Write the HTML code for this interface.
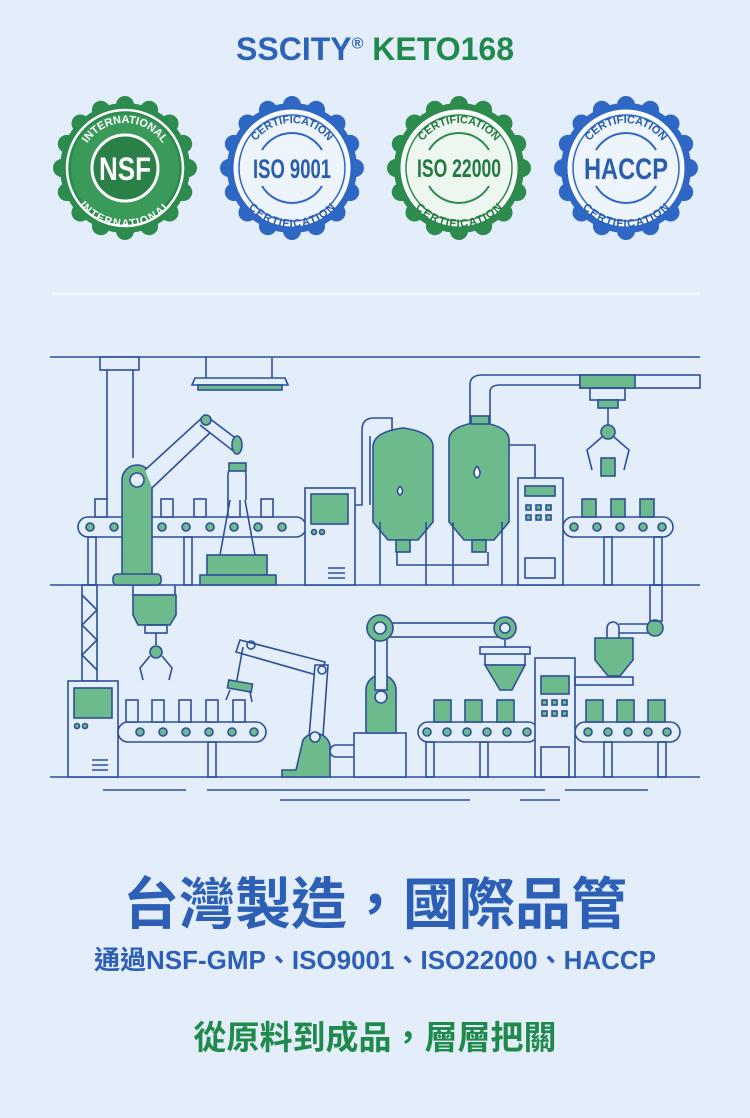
<!DOCTYPE html>
<html><head><meta charset="utf-8"><style>
html,body{margin:0;padding:0;background:#e3eefa;}
body{width:750px;height:1118px;position:relative;overflow:hidden;font-family:"Liberation Sans","Noto Sans CJK TC",sans-serif;}
.t{position:absolute;left:0;width:750px;text-align:center;font-weight:bold;white-space:nowrap;}
</style></head><body>
<div class="t" style="top:31px;font-size:32px;"><span style="color:#2c63b8">SSCITY<sup style="font-size:16px">®</sup></span> <span style="color:#1f8a4c">KETO168</span></div>

<svg width="750" height="1118" style="position:absolute;left:0;top:0" xmlns="http://www.w3.org/2000/svg">
<defs>
<path id="arcT" d="M-45,0 A45,45 0 0 1 45,0"/>
<path id="arcB" d="M-50,0 A50,50 0 0 0 50,0"/>
</defs>
<g font-family="Liberation Sans, sans-serif" font-weight="bold" text-anchor="middle">
<g transform="translate(125,168)">
 <g fill="#2e8b4e"><circle r="65"/>
 <circle cy="-63" r="9"/><circle cy="-63" r="9" transform="rotate(22.5)"/><circle cy="-63" r="9" transform="rotate(45)"/><circle cy="-63" r="9" transform="rotate(67.5)"/><circle cy="-63" r="9" transform="rotate(90)"/><circle cy="-63" r="9" transform="rotate(112.5)"/><circle cy="-63" r="9" transform="rotate(135)"/><circle cy="-63" r="9" transform="rotate(157.5)"/><circle cy="-63" r="9" transform="rotate(180)"/><circle cy="-63" r="9" transform="rotate(202.5)"/><circle cy="-63" r="9" transform="rotate(225)"/><circle cy="-63" r="9" transform="rotate(247.5)"/><circle cy="-63" r="9" transform="rotate(270)"/><circle cy="-63" r="9" transform="rotate(292.5)"/><circle cy="-63" r="9" transform="rotate(315)"/><circle cy="-63" r="9" transform="rotate(337.5)"/></g>
 <circle r="58" fill="none" stroke="#fff" stroke-width="2.5"/>
 <circle r="54" fill="#3a9a5a"/>
 <circle r="33" fill="#2b8048" stroke="#fff" stroke-width="3"/>
 <text y="12" font-size="32" fill="#fff" textLength="52" lengthAdjust="spacingAndGlyphs">NSF</text>
 <text font-size="11" fill="#fff"><textPath href="#arcT" startOffset="50%">INTERNATIONAL</textPath></text>
 <text font-size="11" fill="#fff" dy="9"><textPath href="#arcB" startOffset="50%">INTERNATIONAL</textPath></text>
</g>
<g transform="translate(292,168)">
 <g fill="#2f68c4"><circle r="65"/>
 <circle cy="-63" r="9"/><circle cy="-63" r="9" transform="rotate(22.5)"/><circle cy="-63" r="9" transform="rotate(45)"/><circle cy="-63" r="9" transform="rotate(67.5)"/><circle cy="-63" r="9" transform="rotate(90)"/><circle cy="-63" r="9" transform="rotate(112.5)"/><circle cy="-63" r="9" transform="rotate(135)"/><circle cy="-63" r="9" transform="rotate(157.5)"/><circle cy="-63" r="9" transform="rotate(180)"/><circle cy="-63" r="9" transform="rotate(202.5)"/><circle cy="-63" r="9" transform="rotate(225)"/><circle cy="-63" r="9" transform="rotate(247.5)"/><circle cy="-63" r="9" transform="rotate(270)"/><circle cy="-63" r="9" transform="rotate(292.5)"/><circle cy="-63" r="9" transform="rotate(315)"/><circle cy="-63" r="9" transform="rotate(337.5)"/></g>
 <circle r="57" fill="#eef4fb" stroke="#fff" stroke-width="3"/>
 <circle r="53" fill="none" stroke="#2f68c4" stroke-width="1.5"/>
 <path d="M-30,-18 A35,35 0 0 1 30,-18 M-30,18 A35,35 0 0 0 30,18" fill="none" stroke="#2f68c4" stroke-width="2"/>
 <text y="10" font-size="27" fill="#2a5caf" textLength="78" lengthAdjust="spacingAndGlyphs">ISO 9001</text>
 <text font-size="11" fill="#2a5caf"><textPath href="#arcT" startOffset="50%">CERTIFICATION</textPath></text>
 <text font-size="11" fill="#2a5caf" dy="9"><textPath href="#arcB" startOffset="50%">CERTIFICATION</textPath></text>
</g>
<g transform="translate(459,168)">
 <g fill="#2e8b4e"><circle r="65"/>
 <circle cy="-63" r="9"/><circle cy="-63" r="9" transform="rotate(22.5)"/><circle cy="-63" r="9" transform="rotate(45)"/><circle cy="-63" r="9" transform="rotate(67.5)"/><circle cy="-63" r="9" transform="rotate(90)"/><circle cy="-63" r="9" transform="rotate(112.5)"/><circle cy="-63" r="9" transform="rotate(135)"/><circle cy="-63" r="9" transform="rotate(157.5)"/><circle cy="-63" r="9" transform="rotate(180)"/><circle cy="-63" r="9" transform="rotate(202.5)"/><circle cy="-63" r="9" transform="rotate(225)"/><circle cy="-63" r="9" transform="rotate(247.5)"/><circle cy="-63" r="9" transform="rotate(270)"/><circle cy="-63" r="9" transform="rotate(292.5)"/><circle cy="-63" r="9" transform="rotate(315)"/><circle cy="-63" r="9" transform="rotate(337.5)"/></g>
 <circle r="57" fill="#eef6f0" stroke="#fff" stroke-width="3"/>
 <circle r="53" fill="none" stroke="#2e8b4e" stroke-width="1.5"/>
 <path d="M-30,-18 A35,35 0 0 1 30,-18 M-30,18 A35,35 0 0 0 30,18" fill="none" stroke="#2e8b4e" stroke-width="2"/>
 <text y="9" font-size="25" fill="#237a40" textLength="84" lengthAdjust="spacingAndGlyphs">ISO 22000</text>
 <text font-size="11" fill="#237a40"><textPath href="#arcT" startOffset="50%">CERTIFICATION</textPath></text>
 <text font-size="11" fill="#237a40" dy="9"><textPath href="#arcB" startOffset="50%">CERTIFICATION</textPath></text>
</g>
<g transform="translate(626,168)">
 <g fill="#2f68c4"><circle r="65"/>
 <circle cy="-63" r="9"/><circle cy="-63" r="9" transform="rotate(22.5)"/><circle cy="-63" r="9" transform="rotate(45)"/><circle cy="-63" r="9" transform="rotate(67.5)"/><circle cy="-63" r="9" transform="rotate(90)"/><circle cy="-63" r="9" transform="rotate(112.5)"/><circle cy="-63" r="9" transform="rotate(135)"/><circle cy="-63" r="9" transform="rotate(157.5)"/><circle cy="-63" r="9" transform="rotate(180)"/><circle cy="-63" r="9" transform="rotate(202.5)"/><circle cy="-63" r="9" transform="rotate(225)"/><circle cy="-63" r="9" transform="rotate(247.5)"/><circle cy="-63" r="9" transform="rotate(270)"/><circle cy="-63" r="9" transform="rotate(292.5)"/><circle cy="-63" r="9" transform="rotate(315)"/><circle cy="-63" r="9" transform="rotate(337.5)"/></g>
 <circle r="57" fill="#eef4fb" stroke="#fff" stroke-width="3"/>
 <circle r="53" fill="none" stroke="#2f68c4" stroke-width="1.5"/>
 <path d="M-30,-18 A35,35 0 0 1 30,-18 M-30,18 A35,35 0 0 0 30,18" fill="none" stroke="#2f68c4" stroke-width="2"/>
 <text y="11" font-size="30" fill="#2a5caf" textLength="84" lengthAdjust="spacingAndGlyphs">HACCP</text>
 <text font-size="11" fill="#2a5caf"><textPath href="#arcT" startOffset="50%">CERTIFICATION</textPath></text>
 <text font-size="11" fill="#2a5caf" dy="9"><textPath href="#arcB" startOffset="50%">CERTIFICATION</textPath></text>
</g>
</g>

<line x1="52" y1="294" x2="700" y2="294" stroke="#f6f9fd" stroke-width="2"/>

<g stroke="#2c4f98" stroke-width="1.6" fill="none">
<line x1="50" y1="357" x2="700" y2="357"/>
<line x1="50" y1="585" x2="700" y2="585"/>
<line x1="50" y1="777" x2="700" y2="777"/>
<line x1="103" y1="790" x2="186" y2="790"/><line x1="207" y1="790" x2="545" y2="790"/><line x1="565" y1="790" x2="648" y2="790"/>
<line x1="280" y1="800" x2="470" y2="800"/><line x1="520" y1="800" x2="560" y2="800"/>
<rect x="100" y="357" width="39" height="13" fill="#e3eefa"/>
<line x1="107" y1="370" x2="107" y2="500"/><line x1="133" y1="370" x2="133" y2="458"/>
<line x1="206" y1="357" x2="206" y2="378"/><line x1="272" y1="357" x2="272" y2="378"/>
<path d="M195,378 H285 L288,385 H192 Z" fill="#e3eefa"/>
<rect x="198" y="385" width="84" height="5" fill="#6dba8d"/>
<rect x="78" y="517" width="228" height="20" rx="10" fill="#e3eefa"/>
<g fill="#6dba8d"><circle cx="90" cy="527" r="4"/><circle cx="114" cy="527" r="4"/><circle cx="138" cy="527" r="4"/><circle cx="162" cy="527" r="4"/><circle cx="186" cy="527" r="4"/><circle cx="210" cy="527" r="4"/><circle cx="234" cy="527" r="4"/><circle cx="258" cy="527" r="4"/><circle cx="282" cy="527" r="4"/></g>
<g fill="#e3eefa"><rect x="95" y="499" width="12" height="18"/><rect x="128" y="499" width="12" height="18"/><rect x="161" y="499" width="12" height="18"/><rect x="194" y="499" width="12" height="18"/><rect x="228" y="499" width="12" height="18"/><rect x="261" y="499" width="12" height="18"/></g>
<rect x="88" y="537" width="8" height="48"/><rect x="184" y="537" width="8" height="48"/>
<path d="M122,585 V480 A15,15 0 0 1 152,480 V585 Z" fill="#6dba8d"/>
<rect x="113" y="574" width="48" height="11" rx="4" fill="#6dba8d"/>
<circle cx="137" cy="480" r="7" fill="#e3eefa"/>
<path d="M145,470 L205,415 L215,428 L152,488" fill="#e3eefa"/>
<path d="M205,415 L238,440 L232,450 L200,425" fill="#e3eefa"/>
<circle cx="206" cy="420" r="5" fill="#6dba8d"/>
<ellipse cx="237" cy="445" rx="5" ry="9" fill="#6dba8d"/>
<path d="M228,500 V475 A9,9 0 0 1 246,475 V500" fill="#e3eefa"/>
<rect x="229" y="463" width="17" height="8" fill="#6dba8d"/>
<path d="M220,555 L230,500 M255,555 L245,500"/>
<rect x="207" y="555" width="60" height="20" fill="#6dba8d"/>
<rect x="200" y="575" width="76" height="10" fill="#6dba8d"/>
<rect x="305" y="488" width="50" height="97" fill="#e3eefa"/>
<rect x="311" y="494" width="37" height="30" fill="#6dba8d"/>
<circle cx="314" cy="532" r="2.5" fill="#6dba8d"/><circle cx="322" cy="532" r="2.5" fill="#6dba8d"/>
<path d="M328,568 H345 M328,573 H345 M328,578 H345"/>
<path d="M355,505 H362 V430 Q362,418 374,418 H392 V432"/>
<path d="M370,505 V436" />
<path d="M470,430 V385 Q470,375 482,375 H580"/>
<path d="M490,430 V392 Q490,385 500,385 H580"/>
<path d="M373,447 Q373,432 403,428 Q433,432 433,447 V522 L418,540 H388 L373,522 Z" fill="#6dba8d"/>
<path d="M449,440 Q449,426 479,422 Q509,426 509,440 V522 L494,540 H464 L449,522 Z" fill="#6dba8d"/>
<rect x="471" y="416" width="18" height="8" fill="#6dba8d"/>
<rect x="396" y="540" width="14" height="12" fill="#6dba8d"/><rect x="472" y="540" width="14" height="12" fill="#6dba8d"/>
<path d="M400,486 q-5,6 0,9 q5,-3 0,-9" fill="#fff"/><path d="M477,466 q-6,8 0,12 q6,-4 0,-12" fill="#fff"/>
<path d="M380,522 V585 M426,522 V585 M453,522 V585 M502,522 V585 M397,552 V565 H488 V552"/>
<path d="M509,445 H535 V478"/>
<rect x="518" y="478" width="45" height="107" fill="#e3eefa"/>
<rect x="525" y="486" width="30" height="10" fill="#6dba8d"/>
<g fill="#6dba8d"><rect x="526" y="505" width="5" height="5"/><rect x="536" y="505" width="5" height="5"/><rect x="546" y="505" width="5" height="5"/><rect x="526" y="515" width="5" height="5"/><rect x="536" y="515" width="5" height="5"/><rect x="546" y="515" width="5" height="5"/></g>
<rect x="525" y="558" width="30" height="20"/>
<rect x="580" y="375" width="120" height="13" fill="#e3eefa"/>
<rect x="580" y="375" width="55" height="13" fill="#6dba8d"/>
<rect x="590" y="388" width="35" height="12"/>
<rect x="598" y="400" width="20" height="8" fill="#6dba8d"/>
<line x1="608" y1="408" x2="608" y2="425"/><circle cx="608" cy="432" r="7" fill="#6dba8d"/>
<path d="M602,437 L587,450 L592,470 M614,437 L629,450 L624,470"/>
<rect x="601" y="458" width="14" height="18" fill="#6dba8d"/>
<rect x="563" y="517" width="110" height="20" rx="10" fill="#e3eefa"/>
<g fill="#6dba8d"><circle cx="574" cy="527" r="4"/><circle cx="597" cy="527" r="4"/><circle cx="620" cy="527" r="4"/><circle cx="643" cy="527" r="4"/><circle cx="662" cy="527" r="4"/></g>
<g fill="#6dba8d"><rect x="582" y="499" width="14" height="18"/><rect x="611" y="499" width="14" height="18"/><rect x="640" y="499" width="14" height="18"/></g>
<rect x="604" y="537" width="8" height="48"/><rect x="654" y="537" width="8" height="48"/>
<rect x="82" y="585" width="15" height="96"/>
<path d="M82,595 L97,610 L82,625 L97,640 L82,655 L97,670"/>
<path d="M133,585 V595 H175 V585"/>
<path d="M133,595 H176 V615 L170,625 H138 L133,615 Z" fill="#6dba8d"/>
<rect x="145" y="625" width="22" height="8"/>
<line x1="156" y1="633" x2="156" y2="645"/><circle cx="156" cy="652" r="6" fill="#6dba8d"/>
<path d="M150,656 L140,668 L143,680 M162,656 L172,668 L169,680"/>
<rect x="68" y="681" width="50" height="96" fill="#e3eefa"/>
<rect x="74" y="688" width="38" height="30" fill="#6dba8d"/>
<circle cx="77" cy="726" r="2.5" fill="#6dba8d"/><circle cx="85" cy="726" r="2.5" fill="#6dba8d"/>
<path d="M92,760 H108 M92,765 H108 M92,770 H108"/>
<rect x="118" y="722" width="148" height="20" rx="10" fill="#e3eefa"/>
<g fill="#6dba8d"><circle cx="140" cy="732" r="4"/><circle cx="163" cy="732" r="4"/><circle cx="186" cy="732" r="4"/><circle cx="209" cy="732" r="4"/><circle cx="232" cy="732" r="4"/><circle cx="254" cy="732" r="4"/></g>
<g fill="#e3eefa"><rect x="126" y="700" width="12" height="22"/><rect x="152" y="700" width="12" height="22"/><rect x="179" y="700" width="12" height="22"/><rect x="206" y="700" width="12" height="22"/><rect x="233" y="700" width="12" height="22"/></g>
<rect x="208" y="742" width="8" height="35"/>
<path d="M240,640 L325,662 L320,676 L236,652 Z" fill="#e3eefa"/>
<path d="M315,665 L328,665 L322,750 L308,750 Z" fill="#e3eefa"/>
<circle cx="251" cy="645" r="4"/><circle cx="322" cy="670" r="4"/>
<path d="M243,647 L236,685 L232,685" />
<rect x="228" y="682" width="24" height="8" fill="#6dba8d" transform="rotate(10 240 686)"/>
<path d="M230,690 L226,700 M250,692 L252,702"/>
<path d="M296,770 L303,740 A15,15 0 0 1 330,745 V777 H282 V770 Z" fill="#6dba8d"/>
<circle cx="315" cy="737" r="5" fill="#e3eefa"/>
<rect x="330" y="745" width="55" height="12" rx="6" fill="#e3eefa"/><circle cx="379" cy="751" r="2.5" fill="#2c4f98"/>
<rect x="354" y="733" width="52" height="44" fill="#e3eefa"/>
<path d="M366,733 V690 A15,15 0 0 1 396,690 V733 Z" fill="#6dba8d"/>
<circle cx="381" cy="697" r="6" fill="#e3eefa"/>
<rect x="375" y="635" width="12" height="55" fill="#e3eefa"/>
<rect x="385" y="623" width="115" height="14" fill="#e3eefa"/>
<circle cx="380" cy="628" r="13" fill="#6dba8d"/><circle cx="380" cy="628" r="6" fill="#e3eefa"/>
<circle cx="505" cy="628" r="11" fill="#6dba8d"/><circle cx="505" cy="628" r="5" fill="#e3eefa"/>
<path d="M505,640 V647"/>
<rect x="480" y="647" width="50" height="7" fill="#e3eefa"/>
<path d="M485,654 V665 H525 V654"/>
<path d="M485,665 L500,690 L512,690 L525,665 Z" fill="#6dba8d"/>
<rect x="418" y="722" width="120" height="20" rx="10" fill="#e3eefa"/>
<g fill="#6dba8d"><circle cx="427" cy="732" r="4"/><circle cx="447" cy="732" r="4"/><circle cx="467" cy="732" r="4"/><circle cx="487" cy="732" r="4"/><circle cx="507" cy="732" r="4"/><circle cx="527" cy="732" r="4"/></g>
<g fill="#6dba8d"><rect x="434" y="700" width="17" height="22"/><rect x="465" y="700" width="17" height="22"/><rect x="497" y="700" width="17" height="22"/></g>
<rect x="575" y="722" width="105" height="20" rx="10" fill="#e3eefa"/>
<g fill="#6dba8d"><circle cx="588" cy="732" r="4"/><circle cx="608" cy="732" r="4"/><circle cx="628" cy="732" r="4"/><circle cx="648" cy="732" r="4"/><circle cx="667" cy="732" r="4"/></g>
<g fill="#6dba8d"><rect x="586" y="700" width="17" height="22"/><rect x="617" y="700" width="17" height="22"/><rect x="648" y="700" width="17" height="22"/></g>
<rect x="426" y="742" width="8" height="35"/><rect x="480" y="742" width="8" height="35"/><rect x="604" y="742" width="8" height="35"/><rect x="658" y="742" width="8" height="35"/>
<rect x="535" y="658" width="40" height="119" fill="#e3eefa"/>
<rect x="541" y="676" width="28" height="18" fill="#6dba8d"/>
<g fill="#6dba8d"><rect x="542" y="700" width="5" height="5"/><rect x="552" y="700" width="5" height="5"/><rect x="562" y="700" width="5" height="5"/><rect x="542" y="711" width="5" height="5"/><rect x="552" y="711" width="5" height="5"/><rect x="562" y="711" width="5" height="5"/></g>
<rect x="541" y="747" width="28" height="30"/>
<rect x="575" y="677" width="58" height="8"/>
<path d="M595,638 H633 V660 L620,676 H608 L595,660 Z" fill="#6dba8d"/>
<path d="M607,638 V628 A6,6 0 0 1 619,628 V638"/>
<path d="M619,624 H650 M619,633 H650"/>
<circle cx="655" cy="628" r="8" fill="#6dba8d"/>
<rect x="650" y="585" width="12" height="36"/>
</g>
</svg>

<div class="t" style="top:860px;font-size:56px;color:#2c5fb5;">台灣製造，國際品管</div>
<div class="t" style="top:940px;font-size:26px;color:#2c5fb5;">通過NSF-GMP、ISO9001、ISO22000、HACCP</div>
<div class="t" style="top:1011px;font-size:33px;color:#1f8a4c;">從原料到成品，層層把關</div>
</body></html>
